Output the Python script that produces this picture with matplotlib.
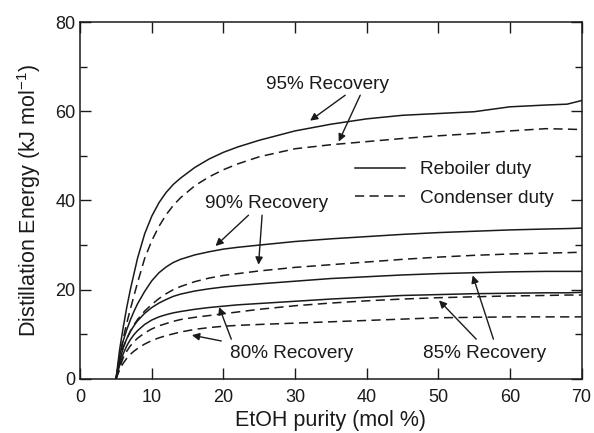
import numpy as np
import matplotlib.pyplot as plt
from matplotlib.lines import Line2D

plt.rcParams['font.family'] = ['Liberation Sans', 'DejaVu Sans']

# EtOH purity (mol %)
purity = [5, 5.5, 6, 6.5, 7, 7.5, 8, 9, 10, 11, 12, 13, 14, 16, 18, 20, 22, 25,
          30, 35, 40, 45, 50, 55, 60, 65, 68, 70]

# distillation energy (kJ/mol), reboiler = solid, condenser = dashed
reb_95 = [0, 6.5, 11.5, 16, 20, 23.5, 27, 32.5, 36.5, 39.5, 41.8, 43.6, 45, 47.4,
          49.3, 50.8, 52, 53.5, 55.6, 57.1, 58.3, 59.1, 59.5, 59.9, 61, 61.4, 61.6, 62.4]
con_95 = [0, 5, 9, 12.5, 15.6, 18.6, 21.5, 27, 31, 34.2, 36.8, 38.9, 40.6, 43.3,
          45.3, 46.9, 48.2, 49.8, 51.6, 52.5, 53.2, 53.9, 54.5, 55, 55.6, 56.1, 56, 55.9]
reb_90 = [0, 5, 8.5, 11, 13.2, 15.1, 16.8, 19.6, 22, 23.8, 25.1, 26.1, 26.8, 27.8,
          28.5, 29.1, 29.5, 30, 30.8, 31.4, 31.9, 32.4, 32.8, 33.1, 33.4, 33.6, 33.7, 33.8]
con_90 = [0, 4, 7, 9, 10.7, 12.1, 13.3, 15.2, 16.7, 18, 19.1, 20, 20.7, 21.8,
          22.6, 23.2, 23.6, 24.2, 25, 25.6, 26.2, 26.8, 27.3, 27.7, 28, 28.2, 28.3, 28.4]
reb_85 = [0, 3.8, 7, 9, 10.6, 11.9, 13, 14.7, 16, 17, 17.8, 18.5, 19, 19.7,
          20.2, 20.6, 20.9, 21.3, 21.9, 22.5, 22.9, 23.3, 23.6, 23.8, 24, 24.1, 24.1, 24.1]
con_85 = [0, 2.5, 4.7, 6.2, 7.4, 8.3, 9.1, 10.3, 11.2, 11.9, 12.4, 12.9, 13.3, 13.8,
          14.2, 14.6, 15, 15.6, 16.4, 17, 17.5, 17.9, 18.2, 18.4, 18.6, 18.7, 18.8, 18.8]
reb_80 = [0, 3, 5.6, 7.4, 8.8, 9.9, 10.8, 12.2, 13.2, 13.9, 14.4, 14.8, 15.1, 15.6,
          16, 16.3, 16.6, 16.9, 17.4, 17.9, 18.3, 18.7, 18.9, 19.1, 19.2, 19.3, 19.3, 19.4]
con_80 = [0, 2, 3.5, 4.6, 5.5, 6.2, 6.8, 7.8, 8.6, 9.2, 9.7, 10.1, 10.5, 11.1,
          11.5, 11.8, 12, 12.2, 12.5, 12.8, 13.1, 13.4, 13.7, 13.8, 13.9, 13.9, 13.9, 13.9]

ink = '#1a1a1a'
dash = (6, 3.5)

fig = plt.figure(figsize=(5.94, 4.33), dpi=100)
ax = fig.add_axes([0.135, 0.125, 0.844, 0.824])

for r in [reb_95, reb_90, reb_85, reb_80]:
    ax.plot(purity, r, color=ink, lw=1.1)
for c in [con_95, con_90, con_85, con_80]:
    ax.plot(purity, c, color=ink, lw=1.1, dashes=dash)

ax.set_xlim(0, 70)
ax.set_ylim(0, 80)
ax.set_xticks(np.arange(0, 71, 10))
ax.set_yticks(np.arange(0, 81, 20))
ax.set_yticks(np.arange(10, 80, 20), minor=True)
ax.tick_params(which='both', direction='in', top=True, right=True,
               labelsize=13, colors=ink, width=1)
ax.tick_params(which='major', length=8)
ax.tick_params(which='minor', length=5)
ax.tick_params(axis='x', pad=7)
for s in ax.spines.values():
    s.set_linewidth(1.1)
    s.set_color(ink)

ax.set_xlabel('EtOH purity (mol %)', fontsize=15.5, color=ink, labelpad=3)
ax.set_ylabel(r'Distillation Energy (kJ mol$^{\mathregular{ -1}}$)', fontsize=15.5,
              color=ink, labelpad=9)

# annotations
arrow = dict(arrowstyle='-|>', color=ink, lw=1, mutation_scale=11,
             shrinkA=0, shrinkB=0)
tfs = 13.7
ax.text(34.5, 66.1, '95% Recovery', ha='center', va='center', fontsize=tfs, color=ink)
ax.annotate('', xy=(32.1, 57.9), xytext=(37.0, 63.6), arrowprops=arrow)
ax.annotate('', xy=(36.1, 53.2), xytext=(39.1, 63.6), arrowprops=arrow)

ax.text(26.0, 39.4, '90% Recovery', ha='center', va='center', fontsize=tfs, color=ink)
ax.annotate('', xy=(18.9, 29.8), xytext=(23.5, 36.7), arrowprops=arrow)
ax.annotate('', xy=(24.9, 25.6), xytext=(25.4, 36.7), arrowprops=arrow)

ax.text(29.5, 5.8, '80% Recovery', ha='center', va='center', fontsize=tfs, color=ink)
ax.annotate('', xy=(19.4, 16.1), xytext=(21.1, 8.9), arrowprops=arrow)
ax.annotate('', xy=(15.6, 9.8), xytext=(19.7, 8.5), arrowprops=arrow)

ax.text(56.5, 5.8, '85% Recovery', ha='center', va='center', fontsize=tfs, color=ink)
ax.annotate('', xy=(50.1, 17.6), xytext=(55.3, 8.9), arrowprops=arrow)
ax.annotate('', xy=(54.8, 23.2), xytext=(57.7, 8.9), arrowprops=arrow)

handles = [Line2D([], [], color=ink, lw=1.1),
           Line2D([], [], color=ink, lw=1.1, dashes=dash)]
ax.legend(handles, ['Reboiler duty', 'Condenser duty'], frameon=False,
          loc='center left', bbox_to_anchor=(0.549, 0.546), fontsize=tfs,
          handlelength=2.6, handletextpad=0.8, labelspacing=0.6,
          borderpad=0, borderaxespad=0, labelcolor=ink)

fig.savefig('out.png', dpi=100)
